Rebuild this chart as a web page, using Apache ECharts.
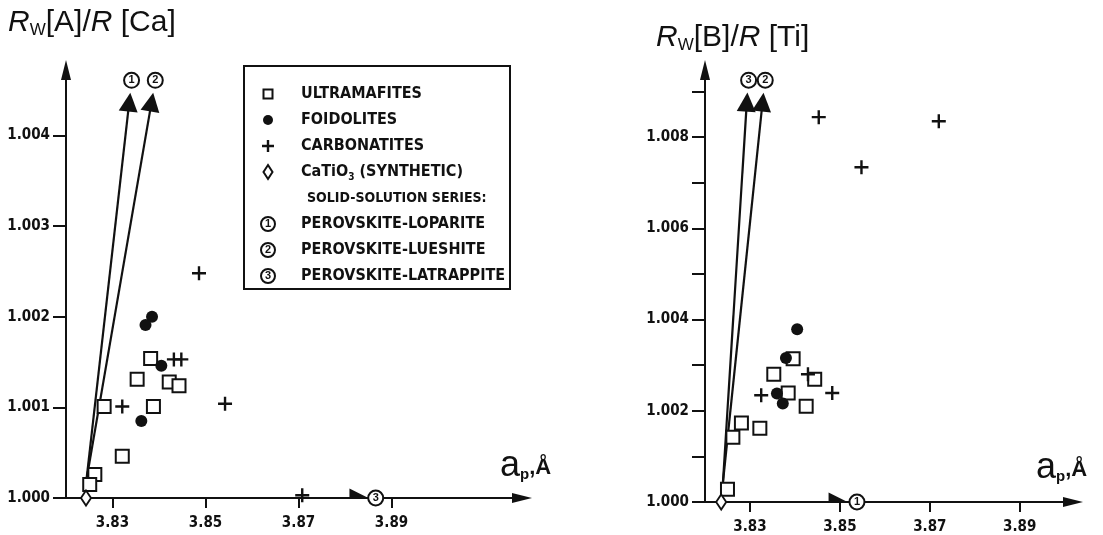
<!DOCTYPE html>
<html>
<head>
<meta charset="utf-8">
<script src="https://cdn.jsdelivr.net/npm/echarts@6/dist/echarts.min.js"></script>
<style>
html,body{margin:0;padding:0;background:#fff;}
#c{width:1103px;height:535px;}
</style>
</head>
<body>
<div id="c"></div>
<script>
// ---------- DATA ----------
// Left panel: Rw[A]/R[Ca] vs a_p
const leftUltramafites = [[3.8282,1.00101],[3.8353,1.00131],[3.8382,1.00154],[3.8388,1.00101],[3.8422,1.00128],[3.8443,1.00124],[3.8321,1.00046],[3.8262,1.00026],[3.8251,1.00015]];
const leftFoidolites = [[3.8385,1.00200],[3.8371,1.00191],[3.8405,1.00146],[3.8362,1.00085]];
const leftCarbonatites = [[3.8486,1.00248],[3.8432,1.00153],[3.8448,1.00153],[3.8321,1.00101],[3.8542,1.00104],[3.8708,1.00003]];
const leftSynthetic = [[3.8243,1.0000]];
const leftSeriesArrows = [
  [[3.8244,1.0002],[3.8336,1.00437]],   // 1 loparite
  [[3.8244,1.0002],[3.8384,1.00437]],   // 2 lueshite
  [[3.8243,1.0000],[3.8830,1.0000]]     // 3 latrappite
];
const leftSeriesMarks = [['1',3.8341,1.00461],['2',3.8392,1.00461],['3',3.8866,1.0000]];

// Right panel: Rw[B]/R[Ti] vs a_p
const rightUltramafites = [[3.8250,1.00028],[3.8262,1.00142],[3.8281,1.00173],[3.8322,1.00162],[3.8353,1.00280],[3.8396,1.00314],[3.8385,1.00239],[3.8444,1.00269],[3.8425,1.00210]];
const rightFoidolites = [[3.8405,1.00379],[3.8380,1.00316],[3.8360,1.00238],[3.8373,1.00216]];
const rightCarbonatites = [[3.8325,1.00234],[3.8429,1.00280],[3.8483,1.00239],[3.8453,1.00844],[3.8548,1.00734],[3.8720,1.00835]];
const rightSynthetic = [[3.8236,1.0000]];
const rightSeriesArrows = [
  [[3.8240,1.00044],[3.8293,1.00877]],  // 3 latrappite
  [[3.8240,1.00044],[3.8328,1.00877]],  // 2 lueshite
  [[3.8236,1.0000],[3.8496,1.0000]]     // 1 loparite
];
const rightSeriesMarks = [['3',3.8297,1.00925],['2',3.8334,1.00925],['1',3.8538,1.0000]];

// Tick values
const xTicks = [3.83,3.85,3.87,3.89];
const leftYTicks = [1.000,1.001,1.002,1.003,1.004];
const rightYTicks = [1.000,1.001,1.002,1.003,1.004,1.005,1.006,1.007,1.008,1.009];
const rightYLabels = [1.000,1.002,1.004,1.006,1.008];

// Legend entries
const legendEntries = ['ULTRAMAFITES','FOIDOLITES','CARBONATITES','CaTiO3 (SYNTHETIC)'];
const legendSubhead = 'SOLID-SOLUTION SERIES:';
const legendSeries = ['PEROVSKITE-LOPARITE','PEROVSKITE-LUESHITE','PEROVSKITE-LATRAPPITE'];

// ---------- STYLE ----------
const INK = '#111';
const NARROW = '"Liberation Sans Narrow","DejaVu Sans Condensed","Liberation Sans",sans-serif';
const SANS = '"Liberation Sans","Noto Sans",sans-serif';
const PLUS = 'path://M-1.2,-7L1.2,-7L1.2,-1.2L7,-1.2L7,1.2L1.2,1.2L1.2,7L-1.2,7L-1.2,1.2L-7,1.2L-7,-1.2L-1.2,-1.2Z';
const HEAD = 'path://M5,0L10,20L0,20Z';

function xAxisDef(gi, max) {
  return {
    type:'value', gridIndex:gi, min:3.82, max:max,
    axisLine:{show:true, onZero:false, lineStyle:{color:INK,width:2}, symbol:['none',HEAD], symbolSize:[11,20]},
    axisTick:{show:true, length:10, lineStyle:{color:INK,width:2}, customValues:xTicks},
    axisLabel:{show:true, margin:18, color:INK, fontFamily:NARROW, fontWeight:'bold', fontSize:15, customValues:xTicks, formatter:v=>v.toFixed(2)},
    splitLine:{show:false}
  };
}
function yAxisDef(gi, max, ticks, labels) {
  return {
    type:'value', gridIndex:gi, min:1.0, max:max,
    axisLine:{show:true, onZero:false, lineStyle:{color:INK,width:2}, symbol:['none',HEAD], symbolSize:[11,20]},
    axisTick:{show:true, length:13, lineStyle:{color:INK,width:2}, customValues:ticks},
    axisLabel:{show:true, margin:16, color:INK, fontFamily:NARROW, fontWeight:'bold', fontSize:15, customValues:labels, formatter:v=>v.toFixed(3)},
    splitLine:{show:false}
  };
}
function scatterSet(gi, sq, fo, ca, sy, arrows, marks) {
  return [
    {type:'lines', coordinateSystem:'cartesian2d', xAxisIndex:gi, yAxisIndex:gi, polyline:false,
     symbol:['none',HEAD], symbolSize:[10,19], silent:true, z:2,
     itemStyle:{color:INK}, lineStyle:{color:INK, width:2.2, opacity:1, curveness:0},
     data:arrows.map(a=>({coords:a}))},
    {type:'scatter', xAxisIndex:gi, yAxisIndex:gi, symbol:'rect', symbolSize:13, z:3,
     itemStyle:{color:'#fff', borderColor:INK, borderWidth:2, opacity:1}, data:sq},
    {type:'scatter', xAxisIndex:gi, yAxisIndex:gi, symbol:'circle', symbolSize:12, z:3,
     itemStyle:{color:INK, opacity:1}, data:fo},
    {type:'scatter', xAxisIndex:gi, yAxisIndex:gi, symbol:PLUS, symbolSize:14, z:3,
     itemStyle:{color:INK, opacity:1}, data:ca},
    {type:'scatter', xAxisIndex:gi, yAxisIndex:gi, symbol:'diamond', symbolSize:[10,15], z:4,
     itemStyle:{color:'#fff', borderColor:INK, borderWidth:2, opacity:1}, data:sy},
    {type:'scatter', xAxisIndex:gi, yAxisIndex:gi, symbol:'circle', symbolSize:15, z:5,
     itemStyle:{color:'#fff', borderColor:INK, borderWidth:2, opacity:1},
     label:{show:true, position:'inside', color:INK, fontFamily:SANS, fontWeight:'bold', fontSize:11, formatter:p=>p.name},
     data:marks.map(m=>({name:m[0], value:[m[1],m[2]]}))}
  ];
}

// ---------- LEGEND (graphic) ----------
const LX = 244, LY = 66, LW = 266, LH = 223;
const rowY0 = 94, rowStep = 26, iconX = 268, textX = 301;
const legendGraphics = [
  {type:'rect', shape:{x:LX, y:LY, width:LW, height:LH}, style:{fill:'#fff', stroke:INK, lineWidth:2}, z:10}
];
const txtStyle = {fill:INK, font:'bold 16px '+NARROW, textVerticalAlign:'middle', textAlign:'left'};
legendEntries.forEach((t,i)=>{
  const y = rowY0 + i*rowStep;
  if (i===3) {
    legendGraphics.push({type:'text', x:textX, y:y, z:11, style:{text:'{n|CaTiO}{s|3}{n| (SYNTHETIC)}', fill:INK, verticalAlign:'middle', align:'left',
      rich:{n:{fontFamily:NARROW, fontWeight:'bold', fontSize:16, fill:INK}, s:{fontFamily:NARROW, fontWeight:'bold', fontSize:10, fill:INK, padding:[10,0,0,0]}}}});
  } else {
    legendGraphics.push({type:'text', x:textX, y:y, z:11, style:Object.assign({text:t}, txtStyle)});
  }
});
const py = rowY0 + 2*rowStep;
legendGraphics.push({type:'rect', z:11, shape:{x:iconX-4.5, y:rowY0-4.5, width:9, height:9}, style:{fill:'#fff', stroke:INK, lineWidth:2}});
legendGraphics.push({type:'circle', z:11, shape:{cx:iconX, cy:rowY0+rowStep, r:5}, style:{fill:INK}});
legendGraphics.push({type:'polygon', z:11, shape:{points:[[iconX-1.2,py-6],[iconX+1.2,py-6],[iconX+1.2,py-1.2],[iconX+6,py-1.2],[iconX+6,py+1.2],[iconX+1.2,py+1.2],[iconX+1.2,py+6],[iconX-1.2,py+6],[iconX-1.2,py+1.2],[iconX-6,py+1.2],[iconX-6,py-1.2],[iconX-1.2,py-1.2]]}, style:{fill:INK}});
legendGraphics.push({type:'polygon', z:11, shape:{points:[[iconX,rowY0+3*rowStep-7],[iconX+4.5,rowY0+3*rowStep],[iconX,rowY0+3*rowStep+7],[iconX-4.5,rowY0+3*rowStep]]}, style:{fill:'#fff', stroke:INK, lineWidth:2}});
legendGraphics.push({type:'text', x:textX+6, y:rowY0+4*rowStep, z:11, style:{text:legendSubhead, fill:INK, font:'bold 14px '+NARROW, textVerticalAlign:'middle'}});
legendSeries.forEach((t,i)=>{
  const y = rowY0 + (5+i)*rowStep;
  legendGraphics.push({type:'circle', z:11, shape:{cx:iconX, cy:y, r:7}, style:{fill:'#fff', stroke:INK, lineWidth:2}});
  legendGraphics.push({type:'text', x:iconX, y:y, z:12, style:{text:String(i+1), fill:INK, font:'bold 11px '+SANS, textAlign:'center', textVerticalAlign:'middle'}});
  legendGraphics.push({type:'text', x:textX, y:y, z:11, style:Object.assign({text:t}, txtStyle)});
});

// ---------- TITLES / AXIS NAMES ----------
function titleG(x, y, a, b) {
  return {type:'text', x:x, y:y, z:20, style:{
    text:'{i|R}{s|W}{n|['+a+']/}{i|R}{n| ['+b+']}', verticalAlign:'middle', align:'left', fill:INK,
    rich:{i:{fontFamily:SANS, fontStyle:'italic', fontSize:30, fill:INK},
          n:{fontFamily:SANS, fontSize:30, fill:INK},
          s:{fontFamily:SANS, fontSize:17, fill:INK, padding:[15,0,0,0]}}}};
}
function apG(x, y) {
  return {type:'text', x:x, y:y, z:20, style:{
    text:'{a|a}{p|p}{c|,Å}', verticalAlign:'middle', align:'left', fill:INK,
    rich:{a:{fontFamily:SANS, fontSize:36, fill:INK},
          p:{fontFamily:SANS, fontWeight:'bold', fontSize:15, fill:INK, padding:[18,0,0,0]},
          c:{fontFamily:SANS, fontWeight:'bold', fontSize:22, fill:INK, padding:[4,0,0,0]}}}};
}

const chart = echarts.init(document.getElementById('c'), null, {renderer:'canvas'});
chart.setOption({
  backgroundColor:'#fff',
  animation:false,
  grid:[
    {left:66, top:70, width:456, height:428},
    {left:705, top:70, width:368, height:432}
  ],
  xAxis:[xAxisDef(0, 3.91806), xAxisDef(1, 3.90185)],
  yAxis:[yAxisDef(0, 1.004724, leftYTicks, leftYTicks), yAxisDef(1, 1.009474, rightYTicks, rightYLabels)],
  series:[].concat(
    scatterSet(0, leftUltramafites, leftFoidolites, leftCarbonatites, leftSynthetic, leftSeriesArrows, leftSeriesMarks),
    scatterSet(1, rightUltramafites, rightFoidolites, rightCarbonatites, rightSynthetic, rightSeriesArrows, rightSeriesMarks)
  ),
  graphic:[titleG(8, 23, 'A', 'Ca'), titleG(656, 38, 'B', 'Ti'), apG(500, 466), apG(1036, 468)].concat(legendGraphics)
});
</script>
</body>
</html>
